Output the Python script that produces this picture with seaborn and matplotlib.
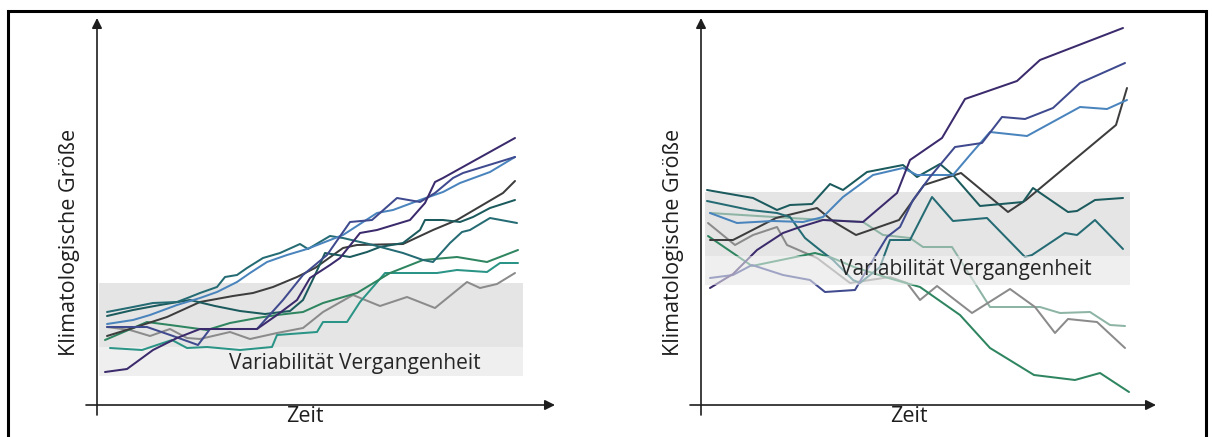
import matplotlib
matplotlib.use("Agg")
import matplotlib.pyplot as plt
from matplotlib.patches import Rectangle
import seaborn as sns

# --- Szenario A: alle Läufe steigen, Variabilität nach unten verlassen ---
zeit_a_lila = [8, 30, 56, 80, 103, 160, 180, 200, 213, 233, 243, 263, 280, 313, 328, 338, 346, 418]
wert_a_lila = [33, 36, 55, 67, 76, 76, 90, 105, 127, 140, 147, 172, 175, 185, 202, 223, 227, 267]
zeit_a_indigo = [10, 50, 76, 101, 113, 160, 186, 206, 230, 253, 275, 300, 323, 338, 356, 366, 418]
wert_a_indigo = [78, 78, 69, 60, 76, 76, 105, 130, 150, 183, 185, 207, 203, 212, 227, 232, 248]
zeit_a_blau = [10, 36, 53, 80, 103, 120, 140, 153, 170, 190, 210, 246, 280, 296, 323, 346, 363, 393, 418]
wert_a_blau = [81, 85, 90, 100, 107, 113, 123, 132, 143, 150, 156, 170, 192, 195, 205, 213, 222, 233, 248]
zeit_a_petrol = [10, 36, 56, 80, 93, 103, 120, 128, 140, 150, 166, 183, 203, 211, 233, 246, 276, 306, 326, 336, 353, 365, 373, 393, 420]
wert_a_petrol = [93, 98, 102, 103, 108, 112, 118, 128, 130, 137, 147, 152, 161, 156, 169, 167, 160, 152, 145, 143, 162, 173, 175, 187, 182]
zeit_a_dunkelpetrol = [10, 36, 63, 93, 118, 143, 168, 193, 206, 218, 228, 253, 270, 283, 306, 323, 328, 346, 363, 376, 393, 418]
wert_a_dunkelpetrol = [89, 95, 100, 105, 99, 94, 91, 94, 105, 130, 152, 148, 153, 158, 162, 175, 185, 185, 183, 188, 197, 205]
zeit_a_anthrazit = [10, 36, 70, 103, 136, 156, 176, 200, 218, 246, 260, 306, 336, 360, 406, 418]
wert_a_anthrazit = [69, 77, 88, 103, 109, 112, 118, 128, 137, 157, 160, 161, 175, 185, 212, 224]
zeit_a_gruen = [8, 50, 73, 110, 133, 160, 180, 206, 226, 260, 293, 326, 360, 390, 421]
wert_a_gruen = [65, 83, 80, 75, 82, 87, 90, 93, 102, 112, 132, 145, 148, 143, 155]
zeit_a_tuerkis = [13, 45, 75, 90, 110, 143, 175, 180, 220, 226, 250, 263, 288, 340, 360, 390, 403, 421]
wert_a_tuerkis = [57, 55, 65, 57, 58, 55, 58, 70, 73, 83, 83, 103, 132, 132, 135, 133, 142, 142]
zeit_a_grau = [10, 33, 53, 73, 90, 103, 133, 153, 180, 206, 226, 256, 283, 310, 338, 370, 383, 400, 418]
wert_a_grau = [78, 75, 69, 76, 67, 66, 73, 66, 72, 77, 93, 110, 99, 108, 97, 123, 117, 121, 132]

# --- Szenario B: Läufe laufen auseinander ---
zeit_b_lila = [9, 32, 56, 82, 99, 122, 162, 196, 209, 241, 264, 316, 339, 422]
wert_b_lila = [117, 131, 155, 172, 178, 185, 183, 212, 245, 267, 306, 324, 345, 377]
zeit_b_indigo = [9, 32, 51, 82, 109, 124, 154, 161, 186, 199, 212, 229, 254, 281, 301, 324, 352, 379, 424]
wert_b_indigo = [127, 130, 140, 130, 125, 113, 115, 127, 168, 178, 205, 228, 258, 262, 288, 286, 297, 322, 342]
zeit_b_blau = [9, 36, 72, 102, 122, 142, 172, 202, 216, 252, 269, 289, 326, 379, 406, 426]
wert_b_blau = [192, 182, 184, 183, 188, 208, 230, 237, 230, 230, 250, 273, 269, 298, 296, 305]
zeit_b_dunkelpetrol = [6, 52, 76, 89, 111, 129, 142, 166, 202, 216, 239, 252, 279, 322, 332, 367, 376, 394, 422]
wert_b_dunkelpetrol = [215, 207, 195, 200, 201, 221, 215, 233, 240, 228, 241, 230, 199, 203, 217, 193, 194, 205, 207]
zeit_b_petrol = [6, 49, 76, 89, 104, 119, 132, 152, 159, 179, 189, 209, 231, 252, 286, 324, 331, 364, 376, 394, 422]
wert_b_petrol = [204, 195, 192, 188, 167, 155, 145, 125, 122, 138, 165, 165, 208, 184, 187, 148, 150, 172, 170, 185, 156]
zeit_b_salbei = [9, 89, 162, 182, 209, 222, 251, 289, 339, 359, 389, 409, 424]
wert_b_salbei = [192, 187, 183, 170, 167, 158, 158, 98, 98, 92, 93, 80, 79]
zeit_b_grau = [7, 34, 52, 76, 86, 116, 149, 169, 189, 206, 219, 236, 271, 309, 334, 354, 367, 396, 424]
wert_b_grau = [182, 160, 170, 178, 160, 147, 122, 125, 128, 122, 105, 119, 92, 116, 98, 72, 86, 83, 57]
zeit_b_gruen = [7, 51, 114, 129, 153, 184, 219, 259, 289, 333, 374, 399, 428]
wert_b_gruen = [169, 139, 152, 148, 138, 128, 118, 90, 57, 30, 25, 32, 13]
zeit_b_anthrazit = [9, 32, 75, 116, 133, 155, 198, 223, 260, 307, 325, 415, 426]
wert_b_anthrazit = [165, 165, 187, 197, 183, 170, 185, 220, 232, 193, 205, 280, 317]

# Bandbreite der vergangenen Variabilität (oberer dunkler / unterer heller Teil)
band_a = dict(x0=2, x1=426, unten=29, mitte=58, oben=122)
band_b = dict(x0=4, x1=429, unten=120, mitte=149, oben=213)

achsen_titel_y = "Klimatologische Größe"
achsen_titel_x = "Zeit"
band_text = "Variabilität Vergangenheit"

FARBEN = {
    "lila": "#3b2a6c", "indigo": "#3f4a8f", "blau": "#4a84bd",
    "petrol": "#246b74", "dunkelpetrol": "#1b5a5d", "anthrazit": "#3d3d3d",
    "gruen": "#2e8560", "tuerkis": "#2a9486", "grau": "#8b8b8b", "salbei": "#8db4a5",
}

linien_a = [
    ("grau", zeit_a_grau, wert_a_grau),
    ("tuerkis", zeit_a_tuerkis, wert_a_tuerkis),
    ("gruen", zeit_a_gruen, wert_a_gruen),
    ("anthrazit", zeit_a_anthrazit, wert_a_anthrazit),
    ("dunkelpetrol", zeit_a_dunkelpetrol, wert_a_dunkelpetrol),
    ("petrol", zeit_a_petrol, wert_a_petrol),
    ("blau", zeit_a_blau, wert_a_blau),
    ("indigo", zeit_a_indigo, wert_a_indigo),
    ("lila", zeit_a_lila, wert_a_lila),
]
linien_b = [
    ("salbei", zeit_b_salbei, wert_b_salbei),
    ("grau", zeit_b_grau, wert_b_grau),
    ("gruen", zeit_b_gruen, wert_b_gruen),
    ("anthrazit", zeit_b_anthrazit, wert_b_anthrazit),
    ("petrol", zeit_b_petrol, wert_b_petrol),
    ("dunkelpetrol", zeit_b_dunkelpetrol, wert_b_dunkelpetrol),
    ("blau", zeit_b_blau, wert_b_blau),
    ("indigo", zeit_b_indigo, wert_b_indigo),
    ("lila", zeit_b_lila, wert_b_lila),
]

sns.set_theme(style="white")
plt.rcParams["font.family"] = ["Open Sans", "DejaVu Sans"]

W, H = 1212, 437
fig = plt.figure(figsize=(W / 100, H / 100), dpi=100)
fig.patch.set_facecolor("white")


def panel(x_achse, x_ende, xmax, linien, band, text_pos, band_ueber_linien):
    ax = fig.add_axes([x_achse / W, 32 / H, (x_ende - x_achse) / W, 387 / H])
    ax.set_xlim(0, xmax)
    ax.set_ylim(0, 387)
    ax.axis("off")

    # Variabilitätsband
    ax.add_patch(Rectangle((band["x0"], band["mitte"]), band["x1"] - band["x0"],
                           band["oben"] - band["mitte"], facecolor="#e5e5e5",
                           edgecolor="none", zorder=1))
    ax.add_patch(Rectangle((band["x0"], band["unten"]), band["x1"] - band["x0"],
                           band["mitte"] - band["unten"], facecolor="#efefef",
                           edgecolor="none", zorder=1))

    for name, t, v in linien:
        sns.lineplot(x=t, y=v, ax=ax, color=FARBEN[name], lw=1.45, sort=False,
                     estimator=None, zorder=3)

    if band_ueber_linien:
        ax.add_patch(Rectangle((band["x0"], band["unten"]), band["x1"] - band["x0"],
                               band["mitte"] - band["unten"], facecolor="#f0f0f0",
                               edgecolor="none", alpha=0.55, zorder=4))

    ax.text(text_pos[0], text_pos[1], band_text, ha="center", va="center",
            fontsize=15, color="#262626", zorder=5)

    # Achsenpfeile
    pfeil = dict(arrowstyle="-|>", color="#1e1e1e", lw=1.2, mutation_scale=15,
                 shrinkA=0, shrinkB=0)
    ax.annotate("", xy=(xmax, 0), xytext=(-11, 0), arrowprops=pfeil,
                annotation_clip=False)
    ax.annotate("", xy=(0, 387), xytext=(0, -10), arrowprops=pfeil,
                annotation_clip=False)

    ax.text(-27, 163, achsen_titel_y, rotation=90, ha="center", va="center",
            fontsize=15.5, color="#1e1e1e")
    ax.text(208, -11, achsen_titel_x, ha="center", va="center",
            fontsize=15.5, color="#1e1e1e")
    return ax


panel(97, 555, 458, linien_a, band_a, (258, 42), False)
panel(701, 1156, 455, linien_b, band_b, (265, 135), True)

# Rahmen
fig.patches.append(Rectangle((7.5 / W, -0.05), (1206 - 7.5) / W, 0.05 + 426.5 / H,
                             transform=fig.transFigure, fill=False,
                             edgecolor="black", lw=2.2))

fig.savefig("out.png", dpi=100)
